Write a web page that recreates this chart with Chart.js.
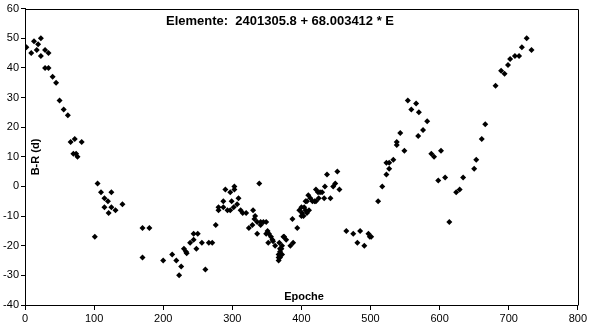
<!DOCTYPE html>
<html>
<head>
<meta charset="utf-8">
<script src="https://cdn.jsdelivr.net/npm/chart.js@4"></script>
<style>
    body { margin: 0; background: #fff; }
    canvas { display: block; }
</style>
</head>
<body>
<canvas id="brChart" width="589" height="327"></canvas>
<script>
        // Beobachtungen: Epoche und B-R in Tagen
        const epochs = [
            2, 9, 13, 17, 19, 23, 23, 29, 34, 29, 34, 40, 45, 50, 56, 62, 66, 72, 82, 70, 74, 76,
            101, 105, 110, 115, 120, 115, 121, 125, 125, 131, 141, 170, 180, 170,
            200, 213, 219, 226, 223, 230, 233, 234, 239, 244, 244, 250, 248,
            256, 266, 271, 261, 276, 280, 280, 287, 287, 290, 293, 297, 297, 299, 303, 303, 302,
            307, 309, 312, 315, 320, 324, 329, 330, 332, 333, 336, 339, 336, 341, 345, 349, 341,
            349, 351, 353, 356, 358, 359, 352, 362, 368, 369, 369, 371, 367, 367, 367, 369, 372,
            372, 375, 378, 374, 384, 388, 387, 394, 397, 400, 401, 404, 406, 408, 411, 400, 403,
            406, 408, 410, 413, 416, 419, 421, 421, 424, 427, 430, 425, 433, 434, 437, 442, 446,
            449, 452, 455, 465, 475, 485, 481, 491, 497, 499, 501, 511,
            517, 523, 523, 527, 527, 533, 538, 538, 543, 549, 554, 559, 566, 570, 569, 576, 582,
            588, 592, 602, 598, 608, 614, 624, 629, 634, 650, 653, 661, 666,
            681, 689, 694, 699, 702, 709, 715, 719, 726, 733
        ];
        const residuals = [
            47, 45, 49, 46, 48, 50, 44, 46, 45, 40, 40, 37, 35, 29, 26, 24, 15, 16, 15, 11, 11, 10,
            -17, 1, -2, -4, -5, -7, -9, -2, -7, -8, -6, -14, -14, -24,
            -25, -23, -25, -27, -30, -21, -22, -22.5, -19, -18, -16, -16, -21,
            -19, -19, -19, -28, -13, -7, -8, -7, -5, -1, -8, -8, -2, -5, 0, -1, -7,
            -6, -4, -8, -9, -9, -14, -13, -8, -11, -10, -16, 1, -12, -12, -12, -12, -13,
            -16, -15, -16, -17, -18, -18.5, -19, -20, -19, -21, -22, -21, -23, -24, -25, -24, -23,
            -20, -17, -18, -17, -20, -19, -11, -14, -8, -7, -9, -7, -8, -9, -8, -10, -10,
            -5, -5, -3, -4, -5, -5, -5, -1, -2, -2, -2, -4, -4, 0, 4, -4, 0,
            1, 5, -1, -15, -16, -15, -19, -20, -16, -17, -17, -5,
            0, 4, 8, 8, 6, 9, 15, 14, 18, 12, 29, 26, 28, 25, 17, 19, 22,
            11, 10, 12, 2, 3, -12, -2, -1, 3, 6, 9, 16, 21,
            34, 39, 38, 41, 43, 44, 44, 47, 50, 46
        ];
        const xTickStep = 100;
        const yTickStep = 10;

        const titleText = 'Elemente:  2401305.8 + 68.003412 * E';
        const xAxisText = 'Epoche';
        const yAxisText = 'B-R (d)';

        const points = epochs.map((e, i) => ({ x: e, y: residuals[i] }));

        // Rahmen und Beschriftungen im Diagrammbereich
        const frameAndLabels = {
            id: 'frameAndLabels',
            beforeDraw(chart) {
                const ctx = chart.ctx;
                ctx.save();
                ctx.fillStyle = '#fff';
                ctx.fillRect(0, 0, chart.width, chart.height);
                ctx.restore();
            },
            afterDraw(chart) {
                const ctx = chart.ctx;
                const a = chart.chartArea;
                ctx.save();
                ctx.strokeStyle = '#000';
                ctx.lineWidth = 1;
                ctx.beginPath();
                ctx.moveTo(Math.round(a.left) + 0.5, Math.round(a.top) + 0.5);
                ctx.lineTo(Math.round(a.right) + 0.5, Math.round(a.top) + 0.5);
                ctx.lineTo(Math.round(a.right) + 0.5, Math.round(a.bottom) + 0.5);
                ctx.stroke();

                ctx.fillStyle = '#000';
                ctx.textBaseline = 'alphabetic';
                ctx.font = 'bold 13px "Liberation Sans", Arial, sans-serif';
                ctx.textAlign = 'left';
                ctx.fillText(titleText, 166, 25);

                ctx.font = 'bold 11px "Liberation Sans", Arial, sans-serif';
                ctx.textAlign = 'center';
                ctx.fillText(xAxisText, 304, 300);

                ctx.translate(39, 157);
                ctx.rotate(-Math.PI / 2);
                ctx.fillText(yAxisText, 0, 0);
                ctx.restore();
            }
        };

        const ctx = document.getElementById('brChart').getContext('2d');
        const chart = new Chart(ctx, {
            type: 'scatter',
            data: {
                datasets: [{
                    label: 'B-R',
                    data: points,
                    pointStyle: 'rectRot',
                    pointRadius: 3,
                    pointBorderWidth: 0,
                    backgroundColor: '#000',
                    borderColor: '#000'
                }]
            },
            options: {
                responsive: false,
                animation: false,
                layout: {
                    padding: { top: 8, right: 10, left: 0, bottom: 0 }
                },
                plugins: {
                    legend: { display: false },
                    tooltip: { enabled: false }
                },
                scales: {
                    x: {
                        type: 'linear',
                        min: 0,
                        max: 800,
                        afterFit(scale) { scale.height = 22; },
                        ticks: {
                            stepSize: xTickStep,
                            color: '#000',
                            padding: 2,
                            maxRotation: 0,
                            font: { family: '"Liberation Sans", Arial, sans-serif', size: 11 }
                        },
                        grid: {
                            drawOnChartArea: false,
                            drawTicks: true,
                            tickLength: 5,
                            color: '#000'
                        },
                        border: { color: '#000', width: 1 }
                    },
                    y: {
                        min: -40,
                        max: 60,
                        afterFit(scale) { scale.width = 25; },
                        ticks: {
                            stepSize: yTickStep,
                            color: '#000',
                            padding: 2,
                            font: { family: '"Liberation Sans", Arial, sans-serif', size: 11 }
                        },
                        grid: {
                            drawOnChartArea: false,
                            drawTicks: true,
                            tickLength: 4,
                            color: '#000'
                        },
                        border: { color: '#000', width: 1 }
                    }
                }
            },
            plugins: [frameAndLabels]
        });
</script>
</body>
</html>
